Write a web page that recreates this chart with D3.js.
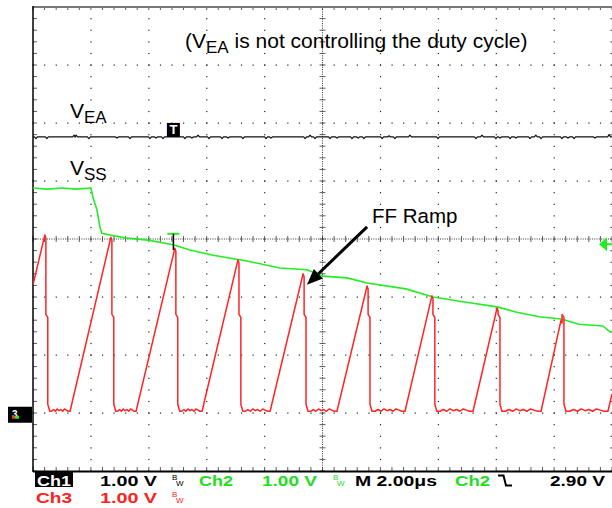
<!DOCTYPE html>
<meta charset="utf-8">
<style>
    body { margin: 0; background: #fff; }
    svg { display: block; font-family: "Liberation Sans", Arial, sans-serif; }
    .dot { fill: #222; }
    .trace { fill: none; stroke-linejoin: round; }
</style>
<body>
<script src="https://d3js.org/d3.v7.min.js"></script>
<script>
    // screen: 10 div x 2.00us, 8 div x 1.00 V (values are volts on screen, 0 = centre line)
    var divT = 2, divV = 1;

    // Ch1 (V_EA): flat level with small glitches
    var veaLevel = 1.76;
    var veaGlitchT = [0.10, 0.48, 1.42, 1.49, 1.93, 2.90, 3.35, 4.04, 4.25, 4.49, 5.25, 5.49, 5.70,
        6.08, 6.53, 6.74, 7.25, 8.05, 8.22, 9.40, 9.57, 9.74, 10.26, 10.50, 11.02, 11.23, 11.43,
        12.06, 12.30, 12.50, 13.02, 13.99, 15.30, 15.51, 15.99, 16.13, 16.48, 16.68, 17.17,
        17.37, 17.55, 18.27, 18.48, 18.69, 19.41, 19.90];
    var veaGlitchV = [-0.03, -0.03, 0.03, 0.03, -0.03, -0.02, -0.03, -0.03, -0.02, -0.03, -0.03, -0.02, 0.03,
        -0.03, -0.03, -0.02, -0.03, -0.03, -0.02, -0.03, 0.03, -0.03, -0.03, -0.02, -0.03, -0.02, -0.03,
        -0.03, 0.02, -0.03, 0.03, -0.03, -0.03, 0.03, -0.03, -0.02, -0.03, -0.02, -0.03,
        0.03, -0.03, -0.03, -0.02, -0.03, -0.02, 0.04];

    // Ch2 (V_SS)
    var ssT = [0, 0.5, 1.0, 1.5, 2.00, 2.07, 2.21, 2.31, 2.38, 2.66, 3.18, 3.97, 4.84, 5.42, 6.22,
        7.39, 8.53, 9.46, 10.02, 10.85, 11.54, 12.88, 13.82, 14.96, 16.03, 16.68, 17.48, 18.24,
        18.86, 19.69, 19.93, 20.0];
    var ssV = [0.88, 0.86, 0.88, 0.86, 0.88, 0.72, 0.50, 0.21, 0.10, 0.07, 0.02, -0.02, -0.10, -0.19, -0.28,
        -0.38, -0.50, -0.53, -0.64, -0.67, -0.76, -0.86, -1.00, -1.09, -1.17, -1.26, -1.34, -1.38,
        -1.47, -1.50, -1.60, -1.60];

    // Ch3 (FF ramp)
    var rampFirst = [0, -0.79];
    var rampPeakT = [0.41, 2.69, 4.90, 7.08, 9.33, 11.54, 13.78, 16.03, 18.24];
    var rampPeakV = [0.07, 0.03, -0.16, -0.36, -0.60, -0.81, -0.98, -1.19, -1.40];
    var rampStartT = [1.28, 3.56, 5.84, 8.19, 10.50, 12.85, 15.20, 17.55, 19.86];
    var rampLast = [20, -2.67];
    var valleyV = -2.97;
    var fallStepV = [-1.30, -2.85];
    var valleyRipple = [0, 0.03, 0, 0.04, 0.01, 0.03, 0, 0.04, 0.02, 0];

    // markers
    var trigT = 4.85;
    var trigLevelV = -0.09;
    var gndV = -3.03;

    var W = 612, H = 508;
    var x = d3.scaleLinear().domain([0, 10 * divT]).range([33, 612]);
    var y = d3.scaleLinear().domain([-4 * divV, 4 * divV]).range([471, 7]);

    var svg = d3.select("body").append("svg")
        .attr("width", W)
        .attr("height", H);

    svg.append("defs").append("clipPath")
        .attr("id", "screen")
        .append("rect")
        .attr("x", x(0)).attr("y", y(4))
        .attr("width", x(20) - x(0)).attr("height", y(-4) - y(4));

    // ---- graticule ----
    var grid = svg.append("g");
    var minorT = d3.range(0, 20.001, divT / 5),
        minorV = d3.range(-4, 4.001, divV / 5);
    var majT = d3.range(1, 11).map(function(i) { return i * divT; }).filter(function(t) { return t !== 10; }),
        majV = d3.range(-3, 4).filter(function(v) { return v !== 0; });

    majT.forEach(function(t) {
        grid.selectAll(null).data(minorV).enter().append("rect").attr("class", "dot")
            .attr("x", Math.min(x(t), 611) - 0.5).attr("y", function(v) { return y(v) - 0.5; })
            .attr("width", 1.2).attr("height", 1.2);
    });
    majV.forEach(function(v) {
        grid.selectAll(null).data(minorT).enter().append("rect").attr("class", "dot")
            .attr("x", function(t) { return x(t) - 0.5; }).attr("y", y(v) - 0.5)
            .attr("width", 1.2).attr("height", 1.2);
    });

    // centre cross with minor ticks
    grid.append("line").attr("x1", x(0)).attr("x2", x(20)).attr("y1", y(0)).attr("y2", y(0))
        .attr("stroke", "#333").attr("stroke-width", 1).attr("stroke-dasharray", "1,1.3");
    grid.append("line").attr("x1", x(10)).attr("x2", x(10)).attr("y1", y(4)).attr("y2", y(-4))
        .attr("stroke", "#333").attr("stroke-width", 1).attr("stroke-dasharray", "1,1.3");
    grid.selectAll(null).data(minorT).enter().append("line")
        .attr("x1", function(t) { return x(t); }).attr("x2", function(t) { return x(t); })
        .attr("y1", y(0) - 3).attr("y2", y(0) + 3)
        .attr("stroke", "#333").attr("stroke-width", 0.8);
    grid.selectAll(null).data(minorV).enter().append("line")
        .attr("x1", x(10) - 3).attr("x2", x(10) + 3)
        .attr("y1", function(v) { return y(v); }).attr("y2", function(v) { return y(v); })
        .attr("stroke", "#333").attr("stroke-width", 0.8);

    // border ticks
    grid.selectAll(null).data(minorV).enter().append("line")
        .attr("x1", x(0)).attr("x2", x(0) + 4)
        .attr("y1", function(v) { return y(v); }).attr("y2", function(v) { return y(v); })
        .attr("stroke", "#333").attr("stroke-width", 0.8);
    grid.selectAll(null).data(minorT).enter().append("line")
        .attr("x1", function(t) { return x(t); }).attr("x2", function(t) { return x(t); })
        .attr("y1", y(4)).attr("y2", y(4) + 3)
        .attr("stroke", "#333").attr("stroke-width", 0.8);
    grid.selectAll(null).data(minorT).enter().append("line")
        .attr("x1", function(t) { return x(t); }).attr("x2", function(t) { return x(t); })
        .attr("y1", y(-4)).attr("y2", y(-4) - 4)
        .attr("stroke", "#333").attr("stroke-width", 0.8);

    // frame
    grid.append("line").attr("x1", x(0)).attr("x2", W).attr("y1", y(4)).attr("y2", y(4))
        .attr("stroke", "#777").attr("stroke-width", 2);
    grid.append("line").attr("x1", x(0)).attr("x2", x(0)).attr("y1", y(4) - 1).attr("y2", y(-4) + 1)
        .attr("stroke", "#000").attr("stroke-width", 1.5);
    grid.append("line").attr("x1", x(0)).attr("x2", W).attr("y1", y(-4) + 0.5).attr("y2", y(-4) + 0.5)
        .attr("stroke", "#000").attr("stroke-width", 2);

    // ---- traces ----
    var line = d3.line()
        .x(function(d) { return x(d[0]); })
        .y(function(d) { return y(d[1]); });
    var traces = svg.append("g").attr("clip-path", "url(#screen)");

    // Ch1
    var vea = [[0, veaLevel]];
    veaGlitchT.forEach(function(t, i) {
        vea.push([t - 0.05, veaLevel], [t, veaLevel + veaGlitchV[i]], [t + 0.05, veaLevel]);
    });
    vea.push([20, veaLevel]);
    traces.append("path").attr("class", "trace").datum(vea).attr("d", line)
        .attr("stroke", "#111").attr("stroke-width", 1.2);

    // Ch2
    traces.append("path").attr("class", "trace")
        .datum(ssT.map(function(t, i) { return [t, ssV[i]]; }))
        .attr("d", line)
        .attr("stroke", "#22ee22").attr("stroke-width", 1.6);

    // Ch3
    var ramp = [rampFirst];
    rampPeakT.forEach(function(tp, i) {
        var fallEnd = tp + 0.17, next = rampStartT[i];
        ramp.push([tp, rampPeakV[i]], [tp + 0.035, rampPeakV[i] - 0.05], [tp + 0.035, fallStepV[0]],
            [tp + 0.1, fallStepV[0] - 0.05], [tp + 0.1, fallStepV[1]], [fallEnd, valleyV]);
        valleyRipple.forEach(function(r, k) {
            ramp.push([fallEnd + (next - fallEnd) * (k + 1) / (valleyRipple.length + 1), valleyV + r]);
        });
        ramp.push([next, valleyV]);
    });
    ramp.push(rampLast);
    traces.append("path").attr("class", "trace").datum(ramp).attr("d", line)
        .attr("stroke", "#ff2525").attr("stroke-width", 1.5);

    // ---- markers ----
    // trigger position
    svg.append("rect").attr("x", x(trigT) - 6.5).attr("y", y(veaLevel) - 14)
        .attr("width", 13).attr("height", 14).attr("fill", "#000");
    svg.append("text").attr("x", x(trigT)).attr("y", y(veaLevel) - 2.5)
        .attr("text-anchor", "middle").attr("fill", "#fff")
        .style("font-size", "13px").style("font-weight", "bold").text("T");
    svg.append("line").attr("x1", x(trigT) - 6).attr("x2", x(trigT) + 6)
        .attr("y1", y(0.09)).attr("y2", y(0.09))
        .attr("stroke", "#22ee22").attr("stroke-width", 2);
    svg.append("line").attr("x1", x(trigT)).attr("x2", x(trigT))
        .attr("y1", y(0.09)).attr("y2", y(-0.19))
        .attr("stroke", "#000").attr("stroke-width", 1.5);

    // trigger level (Ch2)
    var ty = y(trigLevelV);
    svg.append("path")
        .attr("d", "M" + (W - 13) + "," + ty + "L" + (W - 5) + "," + (ty - 7) + "L" + (W - 5) + "," + (ty + 7) + "Z")
        .attr("fill", "#22ee22");
    svg.append("line").attr("x1", W - 6).attr("x2", W).attr("y1", ty).attr("y2", ty)
        .attr("stroke", "#22ee22").attr("stroke-width", 2);

    // ground reference marker
    var gy = y(gndV);
    svg.append("rect").attr("x", 8).attr("y", gy - 8).attr("width", 24).attr("height", 16).attr("fill", "#000");
    svg.append("text").attr("x", 12).attr("y", gy + 3).attr("fill", "#fff")
        .style("font-size", "10px").style("font-weight", "bold").text("3");
    svg.append("rect").attr("x", 12).attr("y", gy + 1).attr("width", 3).attr("height", 3).attr("fill", "#ff3030");
    svg.append("rect").attr("x", 15).attr("y", gy + 1).attr("width", 4).attr("height", 3).attr("fill", "#22ee22");

    // ---- annotations ----
    var note = svg.append("g").attr("fill", "#000");
    var title = note.append("text").attr("x", 185).attr("y", 48).style("font-size", "21px");
    title.append("tspan").text("(V");
    title.append("tspan").attr("dy", 5).style("font-size", "17px").text("EA");
    title.append("tspan").attr("dy", -5).text(" is not controlling the duty cycle)");

    var lEA = note.append("text").attr("x", 70).attr("y", 118).style("font-size", "21px");
    lEA.append("tspan").text("V");
    lEA.append("tspan").attr("dy", 5).style("font-size", "17px").text("EA");

    var lSS = note.append("text").attr("x", 70).attr("y", 175).style("font-size", "21px");
    lSS.append("tspan").text("V");
    lSS.append("tspan").attr("dy", 5).style("font-size", "17px").text("SS");

    note.append("text").attr("x", 372).attr("y", 223).style("font-size", "20.5px").text("FF Ramp");

    // arrow to the ramp
    var a0 = [x(11.54), y(0.21)], a1 = [x(9.46), y(-0.79)];
    var ang = Math.atan2(a1[1] - a0[1], a1[0] - a0[0]);
    var hl = 16, hw = 6.5;
    var bx = a1[0] - hl * Math.cos(ang), by = a1[1] - hl * Math.sin(ang);
    note.append("line").attr("x1", a0[0]).attr("y1", a0[1]).attr("x2", bx).attr("y2", by)
        .attr("stroke", "#000").attr("stroke-width", 3);
    note.append("path")
        .attr("d", "M" + a1[0] + "," + a1[1] +
            "L" + (bx + hw * Math.sin(ang)) + "," + (by - hw * Math.cos(ang)) +
            "L" + (bx - hw * Math.sin(ang)) + "," + (by + hw * Math.cos(ang)) + "Z");

    // ---- status bar ----
    var bar = svg.append("g").style("font-size", "15px").style("font-weight", "bold");
    function label(txt, x0, yb, w, col) {
        return bar.append("text").attr("x", x0).attr("y", yb).attr("fill", col)
            .attr("textLength", w).attr("lengthAdjust", "spacingAndGlyphs").text(txt);
    }
    function bw(x0, yb, col) {
        bar.append("text").attr("x", x0).attr("y", yb - 6).attr("fill", col)
            .style("font-size", "8px").style("font-weight", "normal").text("B");
        bar.append("text").attr("x", x0 + 4).attr("y", yb).attr("fill", col)
            .style("font-size", "8px").style("font-weight", "normal").text("W");
    }
    bar.append("rect").attr("x", 35).attr("y", 472).attr("width", 38).attr("height", 15).attr("fill", "#000");
    label("Ch1", 37, 486, 34, "#fff");
    label("1.00 V", 100, 486, 57, "#000");
    bw(172, 486, "#000");
    label("Ch2", 199, 486, 34, "#22dd22");
    label("1.00 V", 262, 486, 55, "#22dd22");
    bw(333, 486, "#22dd22");
    label("M 2.00\u03bcs", 355, 486, 82, "#000");
    label("Ch2", 455, 486, 35, "#22dd22");
    bar.append("path").attr("d", "M498,475.5H503.5L506,485.5H512")
        .attr("fill", "none").attr("stroke", "#000").attr("stroke-width", 2);
    label("2.90 V", 550, 486, 55, "#000");

    label("Ch3", 36, 503, 36, "#ff2020");
    label("1.00 V", 100, 503, 57, "#ff2020");
    bw(172, 503, "#ff2020");
</script>
